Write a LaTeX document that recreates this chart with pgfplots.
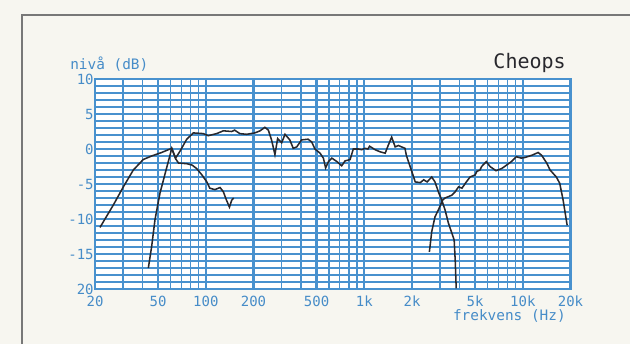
\documentclass[border=0pt]{standalone}
\usepackage{pgfplots}
\pgfplotsset{compat=1.18}
\usepackage{fontspec}
\setmainfont{Liberation Sans}
\newfontfamily\plotfont{DejaVu Sans Mono}
\definecolor{gridblue}{RGB}{72,145,206}
\definecolor{labelblue}{RGB}{70,140,200}
\definecolor{bgcream}{RGB}{247,246,240}
\definecolor{curve}{RGB}{40,40,45}
\definecolor{framegray}{RGB}{120,120,120}
\begin{document}
\begin{tikzpicture}
\fill[bgcream] (0,0) rectangle (472.5pt,258pt);
\useasboundingbox (0,0) rectangle (472.5pt,258pt);
\draw[framegray, line width=1.1pt] (16.5pt,0) -- (16.5pt,246.75pt) -- (472.5pt,246.75pt);
\begin{axis}[
  at={(71.25pt,41.25pt)}, anchor=south west,
  scale only axis, width=356.625pt, height=157.5pt,
  xmode=log, xmin=20, xmax=20000, ymin=-20, ymax=10,
  xtick={20,50,100,200,500,1000,2000,5000,10000,20000},
  xticklabels={20,50,100,200,500,1k,2k,5k,10k,20k},
  minor xtick={30,40,60,70,80,90,300,400,600,700,800,900,3000,4000,6000,7000,8000,9000},
  ytick={-20,-15,-10,-5,0,5,10},
  yticklabels={20,-15,-10,-5,0,5,10},
  minor ytick={-19,-18,-17,-16,-14,-13,-12,-11,-9,-8,-7,-6,-4,-3,-2,-1,1,2,3,4,6,7,8,9},
  grid=both,
  major x grid style={gridblue, line width=1.7pt},
  minor x grid style={gridblue, line width=1.1pt},
  major y grid style={gridblue, line width=1.1pt},
  minor y grid style={gridblue, line width=1.1pt},
  major tick length=0pt, minor tick length=0pt,
  axis line style={gridblue, line width=1.5pt},
  tick label style={font=\plotfont\fontsize{10.5}{11}\selectfont, text=labelblue},
  xticklabel style={yshift=-1.5pt},
  yticklabel style={xshift=2.5pt},
  /pgf/number format/assume math mode=true,
  axis background/.style={fill=white},
  clip=true,
]
\addplot[curve, line width=1.15pt] coordinates {
(21.5,-11.2) (26.1,-8.0) (30.2,-5.4) (34.9,-3.0) (40.3,-1.5) (45.5,-1.0) (52.6,-0.5) (61,0.1)
(64.5,-1.4) (67.3,-2.0) (76,-2.1) (82,-2.3) (87.6,-2.8) (94.5,-3.7) (101.5,-4.7) (106,-5.6)
(114,-5.8) (123,-5.5) (129,-6.1) (135,-7.3) (141,-8.3) (145.8,-7.3) (150,-7.0)
};
\addplot[curve, line width=1.15pt] coordinates {
(43.4,-17.0) (45.5,-14.0) (47.8,-10.1) (51.4,-6.3) (55.4,-3.5) (58.8,-1.3) (61,0.1)
(64.5,-1.3) (68.8,-0.3) (75.8,1.4) (83.5,2.3) (96.4,2.2) (103.6,1.9) (117,2.2) (129,2.6)
(145.8,2.5) (152,2.7) (164,2.2) (181,2.1) (204,2.3) (220,2.6) (236,3.1) (248,2.7) (260,1.3)
(273,-0.8) (284,1.5) (301,0.9) (316,2.1) (339,1.3) (356,0.1) (375,0.3) (402,1.3) (442,1.4)
(466,1.0) (488,0.0) (526,-0.6) (552,-1.3) (570,-2.7) (594,-1.8) (624,-1.3) (672,-1.8)
(720,-2.4) (756,-1.7) (814,-1.5) (852,0.0) (918,0.0) (964,-0.1) (1011,0.1) (1054,0.0)
(1080,0.4) (1170,-0.1) (1258,-0.4) (1354,-0.6) (1420,0.6) (1488,1.7) (1566,0.3) (1640,0.5)
(1720,0.3) (1806,0.1) (1842,-0.9) (1946,-2.5) (2096,-4.7) (2257,-4.8) (2370,-4.4) (2490,-4.7)
(2664,-4.0) (2792,-4.7) (2932,-6.1) (3080,-7.3) (3232,-8.7) (3395,-10.6) (3566,-12.0)
(3690,-13.0) (3746,-15.9) (3800,-19.9)
};
\addplot[curve, line width=1.15pt] coordinates {
(2574,-14.7) (2664,-11.8) (2792,-9.7) (2960,-8.5) (3120,-7.3) (3232,-7.0) (3395,-6.8)
(3566,-6.6) (3746,-6.1) (3935,-5.4) (4133,-5.6) (4340,-4.9) (4648,-4.0) (5000,-3.7)
(5130,-3.2) (5370,-3.0) (5500,-2.5) (5880,-1.8) (6212,-2.5) (6776,-3.1) (7350,-2.8)
(7900,-2.3) (8470,-1.8) (9110,-1.1) (9780,-1.3) (10360,-1.2) (11390,-0.9) (12500,-0.5)
(13150,-0.9) (14150,-2.0) (14860,-3.0) (16280,-4.0) (17100,-4.9) (17960,-7.3) (19050,-10.9)
};
\end{axis}
\node[anchor=west, text=labelblue, font=\plotfont\fontsize{10.8}{11}\selectfont, inner sep=0pt] at (52.5pt,210pt) {nivå (dB)};
\node[anchor=east, text=curve, font=\plotfont\fontsize{15}{16}\selectfont, inner sep=0pt] at (424.5pt,210.75pt) {Cheops};
\node[anchor=east, text=labelblue, font=\plotfont\fontsize{10.8}{11}\selectfont, inner sep=0pt] at (424.5pt,21pt) {frekvens (Hz)};
\end{tikzpicture}
\end{document}
